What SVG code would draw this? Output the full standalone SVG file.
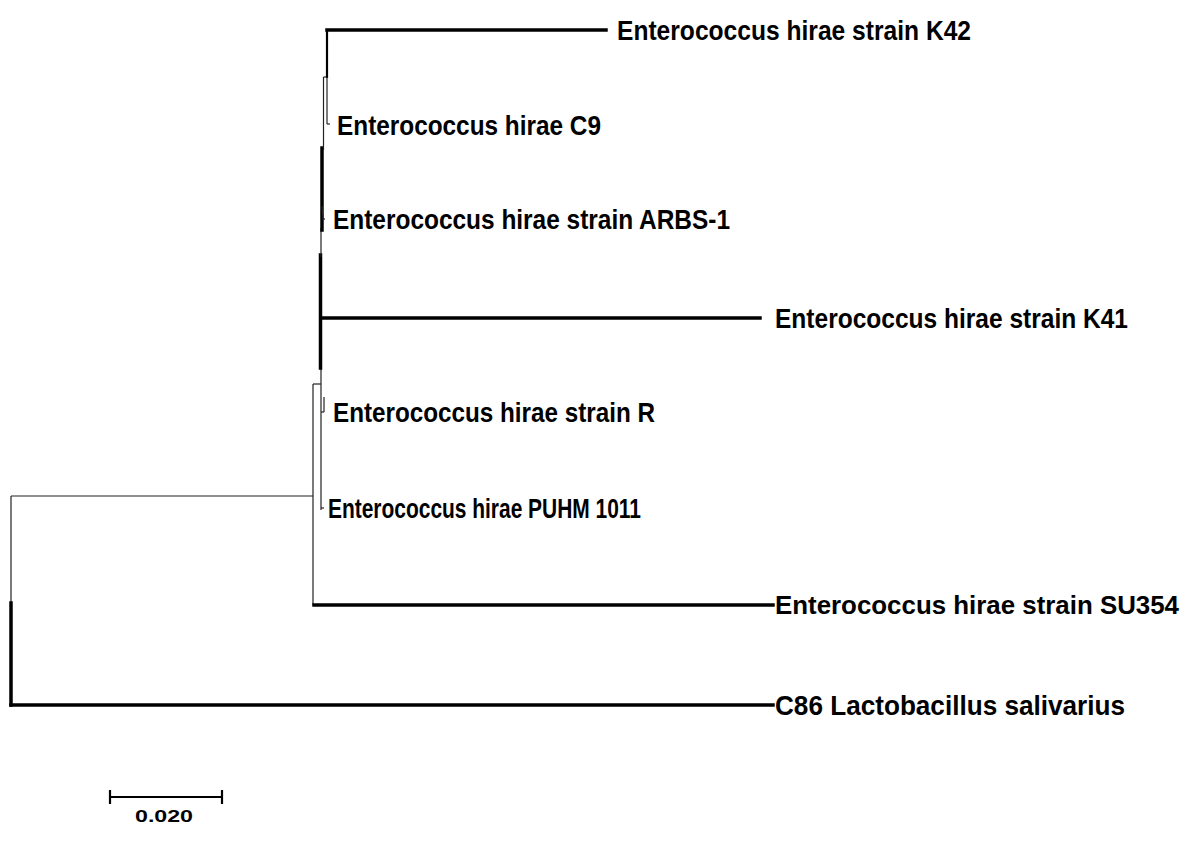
<svg xmlns="http://www.w3.org/2000/svg" width="1190" height="846" viewBox="0 0 1190 846">
<style>
.thick{stroke:#000;stroke-width:3.5;fill:none;stroke-linecap:square}
.mid{stroke:#000;stroke-width:2.2;fill:none}
.thin{stroke:#222;stroke-width:1.2;fill:none}
.lbl{font-family:"Liberation Sans",Arial,sans-serif;font-weight:bold;font-size:28px;fill:#000}
.scale{font-family:"Liberation Sans",Arial,sans-serif;font-weight:bold;font-size:16px;fill:#000}
</style>
<rect width="1190" height="846" fill="#fff"/>
<g id="connectors">
  <line class="thin" x1="11" y1="496" x2="11" y2="603"/>
  <line class="thick" x1="11" y1="603" x2="11" y2="705"/>
  <line class="thin" x1="11" y1="496" x2="313" y2="496"/>
  <line class="thick" x1="11" y1="705" x2="773" y2="705"/>
  <line class="thin" x1="313" y1="384" x2="313" y2="605"/>
  <line class="thick" x1="314" y1="605" x2="773" y2="605"/>
  <line class="thin" x1="313" y1="384" x2="321" y2="384"/>
  <line class="thin" x1="321" y1="366" x2="321" y2="510"/>
  <line class="thin" x1="321" y1="508" x2="324" y2="508"/>
  <line class="thin" x1="324" y1="397" x2="324" y2="412"/>
  <line class="thin" x1="321" y1="412" x2="324" y2="412"/>
  <line class="thick" x1="320.5" y1="255" x2="320.5" y2="368"/>
  <line class="thin" x1="321" y1="228" x2="321" y2="257"/>
  <line class="thick" x1="322" y1="148" x2="322" y2="230"/>
  <line class="thick" x1="321" y1="318" x2="760" y2="318"/>
  <line class="thin" x1="323.5" y1="77" x2="323.5" y2="150"/>
  <line class="thin" x1="322" y1="206" x2="323" y2="219"/>
  <line class="thin" x1="322" y1="219" x2="325" y2="219"/>
  <line class="thin" x1="323.5" y1="77" x2="327" y2="77"/>
  <line class="mid" x1="327" y1="30" x2="327" y2="78"/>
  <line class="thin" x1="327" y1="77" x2="327" y2="124"/>
  <line class="thin" x1="327" y1="124" x2="330" y2="124"/>
  <line class="thick" x1="327" y1="30" x2="606" y2="30"/>
</g>
<g id="leaf-k42"><text class="lbl" x="617" y="40" textLength="354" lengthAdjust="spacingAndGlyphs">Enterococcus hirae strain K42</text></g>
<g id="leaf-c9"><text class="lbl" x="337" y="135" textLength="264" lengthAdjust="spacingAndGlyphs">Enterococcus hirae C9</text></g>
<g id="leaf-arbs1"><text class="lbl" x="333" y="229" textLength="397" lengthAdjust="spacingAndGlyphs">Enterococcus hirae strain ARBS-1</text></g>
<g id="leaf-k41"><text class="lbl" x="775" y="328" textLength="353" lengthAdjust="spacingAndGlyphs">Enterococcus hirae strain K41</text></g>
<g id="leaf-r"><text class="lbl" x="333" y="422" textLength="322" lengthAdjust="spacingAndGlyphs">Enterococcus hirae strain R</text></g>
<g id="leaf-puhm"><text class="lbl" x="328" y="518" textLength="313" lengthAdjust="spacingAndGlyphs">Enterococcus hirae PUHM 1011</text></g>
<g id="leaf-su354"><text class="lbl" x="775" y="614" style="font-size:26px" textLength="404" lengthAdjust="spacingAndGlyphs">Enterococcus hirae strain SU354</text></g>
<g id="leaf-c86"><text class="lbl" x="775" y="715" textLength="350" lengthAdjust="spacingAndGlyphs">C86 Lactobacillus salivarius</text></g>
<g id="scale-bar">
  <line class="mid" x1="110" y1="797" x2="222" y2="797"/>
  <line class="mid" x1="110" y1="790" x2="110" y2="804"/>
  <line class="mid" x1="222" y1="790" x2="222" y2="804"/>
  <text class="scale" x="135" y="822" textLength="58" lengthAdjust="spacingAndGlyphs">0.020</text>
</g>
</svg>
